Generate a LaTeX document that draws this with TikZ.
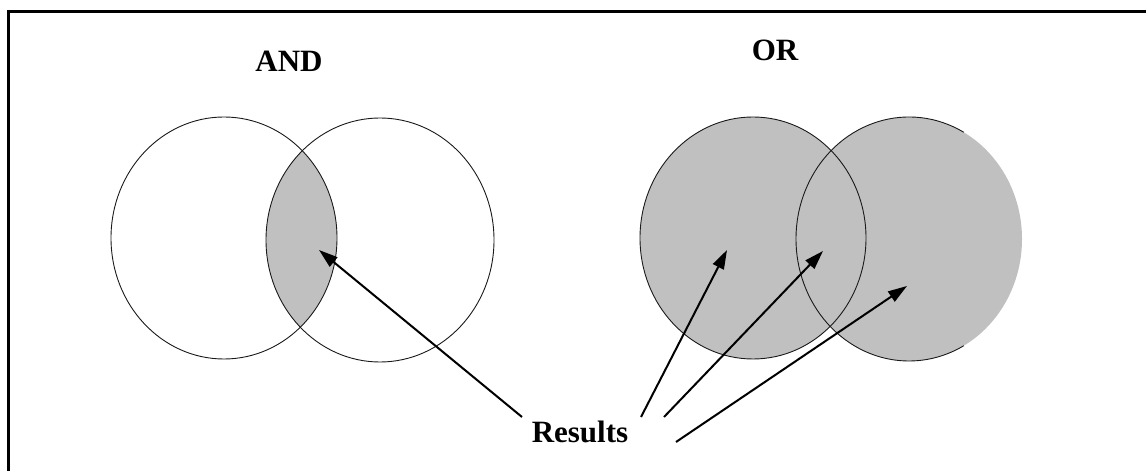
\documentclass[tikz,border=0pt]{standalone}
\usepackage{fontspec}
\setmainfont{Liberation Serif}
\usepackage{xcolor}
\usepackage{tikz}
\usetikzlibrary{arrows.meta}
\definecolor{setfill}{HTML}{C0C0C0}
\definecolor{setdraw}{HTML}{1A1A1A}
\tikzset{
  ttl/.style={anchor=base, inner sep=0pt, font=\fontsize{31}{36}\selectfont\bfseries},
  ring/.style={draw=setdraw, line width=0.9pt},
  arr/.style={-{Triangle[length=19pt, width=12pt]}, line width=2pt, draw=black},
  frame/.style={line width=3pt, draw=black, line join=miter},
}

\begin{document}
\begin{tikzpicture}[x=1pt, y=1pt]
  \useasboundingbox (0,0) rectangle (1146,471);
  \draw[frame] (8.5,0) -- (8.5,459.5) -- (1146,459.5);
  % AND
  \begin{scope}
    \clip (224,233) ellipse [x radius=113, y radius=121];
    \fill[setfill] (380,231) ellipse [x radius=114, y radius=122];
  \end{scope}
  \draw[ring] (224,233) ellipse [x radius=113, y radius=121];
  \draw[ring] (380,231) ellipse [x radius=114, y radius=122];
  % OR
  \fill[setfill] (753,233) ellipse [x radius=113, y radius=121];
  \fill[setfill] (909,232) ellipse [x radius=113, y radius=122];
  \draw[ring] (753,233) ellipse [x radius=113, y radius=121];
  \draw[ring] (909,232) ++(61:113 and 122) arc [start angle=61, end angle=299, x radius=113, y radius=122];
  \node[ttl] (andlbl) at (289,399) {AND};
  \node[ttl] (orlbl) at (775,410) {OR};
  \node[ttl] (res) at (580,28) {Results};
  \coordinate (t0) at (522,54);
  \coordinate (t1) at (641,54);
  \coordinate (t2) at (664,54);
  \coordinate (t3) at (676,29);
  \coordinate (lens) at (319,221);
  \coordinate (orl) at (727,221);
  \coordinate (orm) at (823,220);
  \coordinate (orr) at (907,185);
  \draw[arr] (t0) -- (lens);
  \draw[arr] (t1) -- (orl);
  \draw[arr] (t2) -- (orm);
  \draw[arr] (t3) -- (orr);
\end{tikzpicture}
\end{document}
